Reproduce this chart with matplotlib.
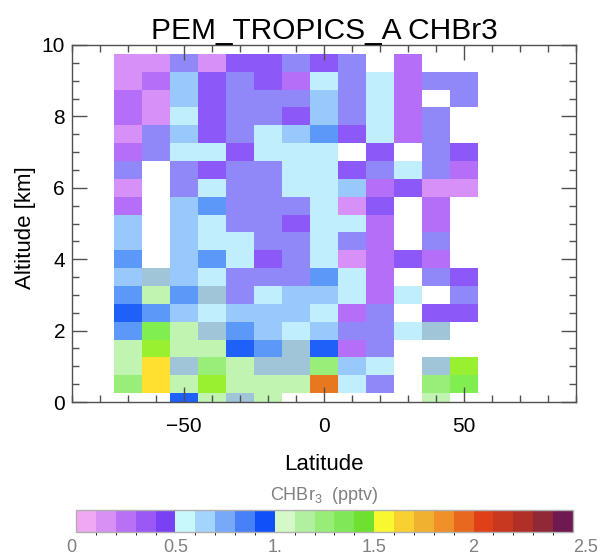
import numpy as np
import matplotlib
matplotlib.use("Agg")
import matplotlib.pyplot as plt
from matplotlib.colors import ListedColormap, BoundaryNorm
from matplotlib.cm import ScalarMappable
from matplotlib.ticker import MultipleLocator

plt.rcParams['font.family'] = ['Liberation Sans', 'DejaVu Sans']
plt.rcParams['mathtext.fontset'] = 'custom'
plt.rcParams['mathtext.rm'] = 'Liberation Sans'
plt.rcParams['mathtext.it'] = 'Liberation Sans'
plt.rcParams['mathtext.bf'] = 'Liberation Sans'

nan = np.nan
# bin centres
latitudes = [-70, -60, -50, -40, -30, -20, -10, 0, 10, 20, 30, 40, 50]
altitudes = [9.5, 9.0, 8.5, 8.0, 7.5, 7.0, 6.5, 6.0, 5.5, 5.0,
             4.5, 4.0, 3.5, 3.0, 2.5, 2.0, 1.5, 1.0, 0.5, 0.0]
# CHBr3 (pptv), one row per altitude (top to bottom), one column per latitude
chbr3 = [
    [0.15, 0.15, 0.35, 0.15, 0.45, 0.45, 0.35, 0.45, 0.35, nan, 0.25, nan, nan],
    [0.15, 0.25, 0.65, 0.45, 0.35, 0.45, 0.25, 0.55, 0.35, 0.55, 0.25, 0.35, 0.35],
    [0.25, 0.15, 0.65, 0.45, 0.35, 0.35, 0.35, 0.65, 0.35, 0.55, 0.25, nan, 0.35],
    [0.25, 0.15, 0.55, 0.45, 0.35, 0.35, 0.45, 0.65, 0.35, 0.55, 0.25, 0.35, nan],
    [0.15, 0.35, 0.65, 0.45, 0.35, 0.55, 0.65, 0.85, 0.45, 0.55, 0.25, 0.35, nan],
    [0.25, 0.35, 0.55, 0.55, 0.45, 0.55, 0.55, 0.55, nan, 0.45, nan, 0.35, 0.45],
    [0.35, nan, 0.35, 0.45, 0.35, 0.35, 0.55, 0.55, 0.45, 0.35, 0.55, 0.35, 0.25],
    [0.15, nan, 0.35, 0.55, 0.35, 0.35, 0.55, 0.55, 0.65, 0.25, 0.45, 0.15, 0.15],
    [0.25, nan, 0.65, 0.85, 0.35, 0.35, 0.35, 0.55, 0.15, 0.45, nan, 0.25, nan],
    [0.65, nan, 0.65, 0.55, 0.35, 0.35, 0.45, 0.55, 0.55, 0.25, nan, 0.25, nan],
    [0.65, nan, 0.65, 0.55, 0.55, 0.35, 0.35, 0.55, 0.35, 0.25, nan, 0.35, nan],
    [0.85, nan, 0.65, 0.85, 0.55, 0.45, 0.35, 0.55, 0.15, 0.25, 0.45, 0.25, nan],
    [0.65, 0.75, 0.65, 0.55, 0.35, 0.35, 0.35, 0.85, 0.55, 0.25, nan, 0.35, 0.45],
    [0.85, 1.15, 0.85, 0.75, 0.35, 0.55, 0.65, 0.65, 0.55, 0.25, 0.55, nan, 0.35],
    [0.95, 0.85, 0.65, 0.55, 0.65, 0.65, 0.65, 0.55, 0.25, 0.35, nan, 0.45, 0.45],
    [0.85, 1.35, 1.15, 0.75, 0.85, 0.65, 0.55, 0.65, 0.35, 0.35, 0.55, 0.75, nan],
    [1.15, 1.45, 1.15, 1.15, 0.95, 0.85, 0.75, 0.95, 0.25, 0.35, nan, nan, nan],
    [1.15, 1.55, 0.75, 1.25, 1.15, 0.75, 0.75, 1.25, 0.65, 0.55, nan, 0.75, 1.45],
    [1.25, 1.55, 1.15, 1.45, 1.15, 1.15, 1.15, 1.95, 0.55, 0.35, nan, 1.25, 1.35],
    [nan, nan, 0.95, 1.15, 0.75, 1.15, nan, nan, nan, nan, nan, 1.15, nan],
]
levels = [round(0.1 * i, 1) for i in range(26)]
bar_ticks = [0, 0.5, 1.0, 1.5, 2.0, 2.5]
bar_ticklabels = ['0', '0.5', '1.', '1.5', '2', '2.5']
x_ticks = [-50, 0, 50]
y_ticks = [0, 2, 4, 6, 8, 10]

# colour table as shown in the colour bar
bar_colors = ['#F0A8F4', '#D890F4', '#B870F4', '#9A58F4', '#7A40F4',
              '#C8F8FC', '#A4D4FC', '#78A8F8', '#4880F8', '#1050F8',
              '#D4F8C8', '#B0F0A0', '#98EC78', '#80E858', '#70E030',
              '#F8F830', '#F8D030', '#F0B030', '#F09028', '#E86820',
              '#E04018', '#C83820', '#B03028', '#902838', '#701850']
# colour table as rendered in the cells
cell_colors = ['#F0A8F4', '#D690F8', '#B46EF8', '#9088F8', '#8C58F8',
               '#C0EEFC', '#98C8FC', '#A0C4D8', '#5C98F8', '#1E60F8',
               '#D4F8C8', '#C0F4B0', '#98EE78', '#80EE50', '#98F030',
               '#FFE030', '#F8D030', '#F0B030', '#F09028', '#E87820',
               '#E04018', '#C83820', '#B03028', '#902838', '#701850']

norm = BoundaryNorm(levels, len(bar_colors))
cell_cmap = ListedColormap(cell_colors)
bar_cmap = ListedColormap(bar_colors)

W, H = 608, 558
fig = plt.figure(figsize=(W / 100, H / 100), dpi=100)
ax = fig.add_axes([72 / W, 1 - 402 / H, 504 / W, 357 / H])

lat = np.array(latitudes, dtype=float)
alt = np.array(altitudes, dtype=float)
dlat = lat[1] - lat[0]
dalt = alt[0] - alt[1]
lat_edges = np.append(lat - dlat / 2, lat[-1] + dlat / 2)
alt_sorted = alt[::-1]
alt_edges = np.append(alt_sorted - dalt / 2, alt_sorted[-1] + dalt / 2)
Z = np.ma.masked_invalid(np.array(chbr3)[::-1])
ax.pcolormesh(lat_edges, alt_edges, Z, cmap=cell_cmap, norm=norm)

ax.set_xlim(-90, 90)
ax.set_ylim(0, 10)
ax.set_xticks(x_ticks)
ax.set_yticks(y_ticks)
ax.set_xticklabels(['\u221250', '0', '50'])
ax.xaxis.set_minor_locator(MultipleLocator(10))
ax.yaxis.set_minor_locator(MultipleLocator(0.5))
spine_col = '#505050'
for s in ax.spines.values():
    s.set_color(spine_col)
    s.set_linewidth(1.0)
ax.tick_params(which='both', direction='in', top=True, right=True,
               color=spine_col, width=1.0)
ax.tick_params(which='major', length=11)
ax.tick_params(which='minor', length=5)
ax.tick_params(axis='x', which='major', labelsize=15, pad=11)
ax.tick_params(axis='y', which='major', labelsize=15, pad=5)

ax.set_title('PEM_TROPICS_A CHBr3', fontsize=21.5, pad=4)
ax.set_xlabel('Latitude', fontsize=16, va='center')
ax.xaxis.set_label_coords(0.5, (402 - 464) / 357)
ax.set_ylabel('Altitude [km]', fontsize=16, va='center')
ax.yaxis.set_label_coords((25 - 72) / 504, (402 - 228) / 357)

cax = fig.add_axes([76 / W, 1 - 532 / H, 497 / W, 22 / H])
cb = fig.colorbar(ScalarMappable(norm=norm, cmap=bar_cmap), cax=cax,
                  orientation='horizontal')
cb.outline.set_edgecolor('#B0B0B0')
cb.outline.set_linewidth(1.0)
cb.set_ticks(bar_ticks)
cb.set_ticklabels(bar_ticklabels)
cax.tick_params(length=0, labelsize=13, labelcolor='#808080', pad=5)
tl = cax.get_xticklabels()
tl[0].set_ha('right')
tl[-1].set_ha('left')
cb.set_label('CHBr$_3$  (pptv)', fontsize=13, color='#808080', labelpad=7)
cax.xaxis.set_label_position('top')

fig.savefig('out.png', dpi=100)
